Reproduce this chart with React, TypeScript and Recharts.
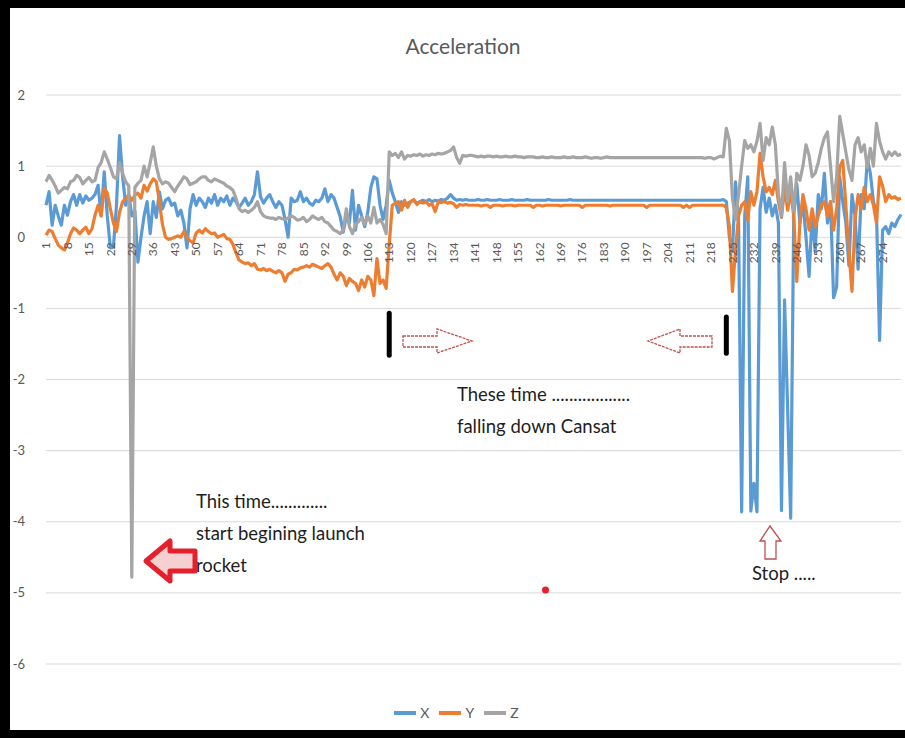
import React from 'react';
import {
  LineChart,
  Line,
  XAxis,
  YAxis,
  CartesianGrid,
  ReferenceLine,
  ReferenceDot,
} from 'recharts';

const colors = {
  blue: '#5B9BD5',
  orange: '#ED7D31',
  gray: '#A5A5A5',
  grid: '#D9D9D9',
  label: '#595959',
  note: '#1E1E1E',
  red: '#E3202B',
  darkRed: '#C0504D',
} as const;

// acceleration samples, one per reading (1..280)
const xAcc = [
  0.45, 0.64, 0.17, 0.45, 0.3, 0.17, 0.45, 0.31, 0.5, 0.6,
  0.45, 0.6, 0.48, 0.58, 0.52, 0.55, 0.6, 0.73, 0.3, 0.92,
  0.3, -0.15, -0.14, 0.45, 1.43, 0.85, 0.45, 0.6, 0.3, 0.37,
  -0.35, 0.0, 0.3, 0.5, 0.05, 0.5, 0.28, 0.64, 0.4, 0.52,
  0.55, 0.45, 0.48, 0.3, 0.38, 0.2, -0.15, 0.4, 0.6, 0.45,
  0.55, 0.5, 0.42, 0.55, 0.48, 0.6, 0.45, 0.55, 0.5, 0.58,
  0.45, 0.55, 0.5, 0.42, 0.48, 0.55, 0.45, 0.5, 0.6, 0.92,
  0.57, 0.48, 0.55, 0.6, 0.5, 0.42, 0.5, 0.45, 0.25, 0.0,
  0.55, 0.5, 0.52, 0.64, 0.5, 0.55, 0.48, 0.45, 0.52, 0.5,
  0.55, 0.68, 0.5, 0.6, 0.55, 0.42, 0.29, 0.07, 0.3, 0.2,
  0.66, 0.1, 0.45, 0.3, 0.15, 0.35, 0.7, 0.85, 0.82, 0.45,
  0.25, 0.45, 0.8, 0.62, 0.5, 0.35, 0.5, 0.45, 0.48, 0.5,
  0.52, 0.48, 0.5, 0.52, 0.5, 0.53, 0.5, 0.52, 0.51, 0.53,
  0.52, 0.55, 0.6, 0.55, 0.52, 0.53, 0.52, 0.53, 0.52, 0.52,
  0.52, 0.53, 0.52, 0.52, 0.53, 0.52, 0.52, 0.52, 0.53, 0.52,
  0.52, 0.52, 0.53, 0.52, 0.52, 0.52, 0.52, 0.53, 0.52, 0.52,
  0.52, 0.52, 0.52, 0.52, 0.53, 0.52, 0.52, 0.52, 0.52, 0.52,
  0.52, 0.53, 0.52, 0.52, 0.52, 0.52, 0.52, 0.52, 0.52, 0.52,
  0.52, 0.52, 0.52, 0.52, 0.52, 0.52, 0.52, 0.52, 0.52, 0.52,
  0.52, 0.52, 0.52, 0.52, 0.52, 0.52, 0.52, 0.52, 0.52, 0.52,
  0.52, 0.52, 0.52, 0.52, 0.52, 0.52, 0.52, 0.52, 0.52, 0.52,
  0.52, 0.52, 0.52, 0.52, 0.52, 0.52, 0.52, 0.52, 0.52, 0.52,
  0.52, 0.53, 0.5, 0.0, -0.2, 0.78, 0.2, -3.86, 0.3, 0.85,
  -3.85, -3.46, -3.86, 0.4, 0.7, 0.35, 0.55, 0.3, 0.45, 0.2,
  -3.84, -0.88, -2.4, -3.95, 0.3, 0.75, 0.2, 0.5, 0.0, -0.55,
  0.3, -0.2, 0.6, 0.4, 0.9, 0.2, 0.5, -0.85, -0.7, 0.85,
  0.5, 0.2, -0.4, 0.6, 0.3, -0.45, 0.6, 0.4, 1.1, 0.9,
  0.5, 0.35, -1.45, 0.1, 0.15, 0.05, 0.2, 0.15, 0.25, 0.32,
];

const yAcc = [
  0.03, 0.1, 0.08, -0.02, -0.11, -0.15, -0.18, -0.08, 0.05, 0.13,
  0.1, 0.05, 0.1, 0.14, 0.05, 0.12, 0.31, 0.45, 0.3, 0.69,
  0.62, 0.4, 0.2, 0.08, 0.35, 0.5, 0.55, 0.59, 0.52, 0.59,
  0.62, 0.55, 0.73, 0.65, 0.75, 0.82, 0.78, 0.5, 0.18, 0.0,
  -0.03, -0.02, 0.0, 0.02, 0.0, 0.08, 0.0, -0.05, -0.08, 0.06,
  0.1, 0.06, 0.12, 0.08, 0.05, 0.06, 0.0, 0.02, 0.04, -0.02,
  -0.03, -0.1, -0.22, -0.32, -0.35, -0.37, -0.36, -0.4, -0.37, -0.45,
  -0.46, -0.44, -0.47, -0.45, -0.48, -0.5, -0.47, -0.5, -0.62, -0.52,
  -0.5, -0.45, -0.46, -0.43, -0.42, -0.4, -0.42, -0.38, -0.4, -0.42,
  -0.44, -0.4, -0.37, -0.42, -0.52, -0.6, -0.5, -0.55, -0.68, -0.58,
  -0.62, -0.65, -0.75, -0.6, -0.7, -0.55, -0.6, -0.82, -0.3, -0.65,
  -0.6, -0.72, -0.1, 0.45, 0.48, 0.5, 0.38, 0.52, 0.42, 0.5,
  0.53, 0.46, 0.5, 0.48, 0.5, 0.45, 0.47, 0.36, 0.5, 0.49,
  0.5, 0.48, 0.49, 0.47, 0.42, 0.46, 0.45, 0.46, 0.45, 0.45,
  0.45, 0.45, 0.44, 0.45, 0.45, 0.42, 0.45, 0.45, 0.45, 0.44,
  0.45, 0.45, 0.45, 0.44, 0.45, 0.45, 0.45, 0.45, 0.45, 0.42,
  0.45, 0.45, 0.44, 0.45, 0.45, 0.45, 0.45, 0.45, 0.44, 0.45,
  0.45, 0.45, 0.45, 0.45, 0.45, 0.42, 0.45, 0.45, 0.45, 0.45,
  0.45, 0.45, 0.45, 0.45, 0.44, 0.45, 0.45, 0.45, 0.45, 0.45,
  0.45, 0.45, 0.45, 0.45, 0.45, 0.45, 0.42, 0.45, 0.45, 0.45,
  0.45, 0.45, 0.45, 0.45, 0.45, 0.45, 0.45, 0.45, 0.42, 0.45,
  0.42, 0.45, 0.45, 0.45, 0.45, 0.45, 0.45, 0.45, 0.45, 0.45,
  0.45, 0.45, 0.42, 0.15, -0.76, -0.18, 0.3, 0.45, 0.5, 0.24,
  0.64, 0.45, 0.64, 1.18, 0.85, 0.64, 0.7, 0.6, 0.8, 0.5,
  0.28, 0.7, 0.38, 0.65, 0.3, -0.62, 0.2, 0.6, 0.4, 0.1,
  0.4, 0.15, 0.3, 0.45, 0.5, 0.3, 0.5, 0.1, 0.4, 0.99,
  1.08, 0.45, -0.2, -0.76, 0.25, 0.6, 0.4, 0.7, 0.5, 0.6,
  0.45, 0.2, 0.85, 0.72, 0.5, 0.6, 0.55, 0.57, 0.53, 0.55,
];

const zAcc = [
  0.78, 0.87, 0.8, 0.72, 0.62, 0.66, 0.7, 0.68, 0.78, 0.8,
  0.87, 0.84, 0.75, 0.8, 0.84, 0.78, 0.8, 0.98, 1.05, 1.2,
  1.1, 0.98, 0.85, 0.82, 1.05, 0.9, 0.78, 0.72, -4.78, 0.7,
  0.76, 0.8, 1.0, 0.85, 1.05, 1.27, 1.0, 0.82, 0.75, 0.78,
  0.76, 0.7, 0.64, 0.72, 0.78, 0.85, 0.82, 0.74, 0.76, 0.78,
  0.82, 0.85, 0.85, 0.8, 0.78, 0.82, 0.8, 0.78, 0.76, 0.72,
  0.7, 0.66, 0.55, 0.4, 0.36, 0.38, 0.35, 0.38, 0.42, 0.5,
  0.36, 0.3, 0.28, 0.27, 0.27, 0.25, 0.28, 0.26, 0.25, 0.27,
  0.3, 0.28, 0.24, 0.25, 0.28, 0.22, 0.25, 0.3, 0.27, 0.25,
  0.28, 0.22, 0.2, 0.15, 0.1, 0.08, 0.05, 0.1, 0.4, 0.15,
  0.05, 0.18, 0.22, 0.28, 0.18, 0.3, 0.2, 0.42, 0.2, 0.25,
  0.18, 0.05, 1.2, 1.15, 1.18, 1.12, 1.2, 1.1, 1.15, 1.14,
  1.16, 1.15, 1.17, 1.14, 1.16, 1.15, 1.17, 1.16, 1.18, 1.17,
  1.18, 1.2, 1.22, 1.27, 1.12, 1.04, 1.15, 1.14, 1.15, 1.15,
  1.14, 1.13, 1.14, 1.13, 1.14, 1.14, 1.13, 1.14, 1.13, 1.13,
  1.14, 1.13, 1.13, 1.14, 1.13, 1.13, 1.12, 1.13, 1.13, 1.13,
  1.12, 1.12, 1.13, 1.12, 1.12, 1.13, 1.12, 1.12, 1.12, 1.13,
  1.12, 1.12, 1.13, 1.12, 1.12, 1.12, 1.13, 1.12, 1.11, 1.12,
  1.12, 1.11, 1.12, 1.13, 1.12, 1.12, 1.12, 1.12, 1.12, 1.12,
  1.12, 1.12, 1.12, 1.12, 1.12, 1.12, 1.12, 1.12, 1.12, 1.12,
  1.12, 1.12, 1.12, 1.12, 1.12, 1.12, 1.12, 1.12, 1.12, 1.12,
  1.12, 1.12, 1.12, 1.12, 1.12, 1.11, 1.12, 1.12, 1.1, 1.12,
  1.14, 1.13, 1.53, 1.36, 0.55, 0.25, 0.6, 1.0, 1.36, 1.25,
  1.3, 1.2, 1.35, 1.6, 1.08, 1.4, 1.3, 1.55, 1.3, 0.62,
  0.3, 1.05, 0.5, 0.85, 0.36, 0.9, 0.8, 1.0, 1.3, 1.15,
  0.85, 0.9, 1.05, 1.25, 1.4, 1.48, 1.0, 0.5, 0.85, 1.7,
  1.45, 1.2, 0.95, 0.8, 1.3, 1.4, 1.2, 1.3, 0.98, 1.25,
  1.0, 1.6, 1.35, 1.2, 1.1, 1.2, 1.15, 1.2, 1.15, 1.17,
];

const seriesNames = ['X', 'Y', 'Z'];
const yTicks = [-6, -5, -4, -3, -2, -1, 0, 1, 2];

const data = xAcc.map((x, i) => ({ t: i + 1, X: x, Y: yAcc[i], Z: zAcc[i] }));

const W = 905;
const H = 738;
const margin = { top: 95, right: 4, left: 0, bottom: 44 };
const xAxisH = 30;
const plotH = H - margin.top - margin.bottom - xAxisH;
const Y_MIN = -6;
const Y_MAX = 2;
const zeroY = margin.top + ((Y_MAX - 0) / (Y_MAX - Y_MIN)) * plotH;

const font = 'Lato, "Open Sans", sans-serif';
const seriesColors = [colors.blue, colors.orange, colors.gray];

// category labels sit on the zero line, rotated like Excel does
const CategoryTick = (props: any) => {
  const { x, payload } = props;
  const y = zeroY + 5;
  return (
    <text
      x={x}
      y={y}
      dy="0.35em"
      transform={`rotate(-90 ${x} ${y})`}
      textAnchor="end"
      fill={colors.label}
      fontSize={12}
      fontFamily={font}
    >
      {payload.value}
    </text>
  );
};

const LegendRow = () => (
  <div
    style={{
      position: 'absolute',
      top: 704,
      left: 0,
      width: W,
      display: 'flex',
      justifyContent: 'center',
      gap: 10,
      fontFamily: font,
      paddingLeft: 8,
      boxSizing: 'border-box',
    }}
  >
    {seriesNames.map((name, i) => (
      <div key={name} style={{ display: 'flex', alignItems: 'center', gap: 4 }}>
        <svg width={22} height={8}>
          <line x1={0} y1={4} x2={22} y2={4} stroke={seriesColors[i]} strokeWidth={4} />
        </svg>
        <span style={{ color: colors.label, fontSize: 14 }}>{name}</span>
      </div>
    ))}
  </div>
);

const Notes = () => (
  <svg
    width={W}
    height={H}
    style={{ position: 'absolute', left: 0, top: 0, pointerEvents: 'none' }}
  >
    <text x={463} y={54} textAnchor="middle" fontSize={21} fill={colors.label} fontFamily={font}>
      Acceleration
    </text>

    {/* launch note */}
    <polygon
      points="146,561 170,541 170,551 195,551 195,571 170,571 170,581"
      fill="#F6D0D0"
      stroke={colors.red}
      strokeWidth={5}
      strokeLinejoin="round"
    />
    <g fontSize={18.5} fill={colors.note} fontFamily={font}>
      <text x={196} y={508}>This time.............</text>
      <text x={196} y={540}>start begining launch</text>
      <text x={196} y={572}>rocket</text>
    </g>

    {/* falling interval */}
    <polygon
      points="403,336 437,336 437,329 472,341 437,353 437,347 403,347"
      fill="#fff"
      stroke={colors.darkRed}
      strokeWidth={1.3}
      strokeDasharray="3 1"
    />
    <polygon
      points="712,336 680,336 680,329 648,341 680,353 680,347 712,347"
      fill="#fff"
      stroke={colors.darkRed}
      strokeWidth={1.3}
      strokeDasharray="3 1"
    />
    <g fontSize={18.5} fill={colors.note} fontFamily={font}>
      <text x={457} y={401}>These time ..................</text>
      <text x={457} y={433}>falling down Cansat</text>
    </g>

    {/* stop note */}
    <polygon
      points="770,526 781,541 776,541 776,559 765,559 765,541 760,541"
      fill="#fff"
      stroke={colors.darkRed}
      strokeWidth={1.3}
    />
    <text x={752} y={580} fontSize={18.5} fill={colors.note} fontFamily={font}>
      Stop .....
    </text>
  </svg>
);

export default function App() {
  return (
    <div style={{ position: 'fixed', left: 0, top: 0, width: W, height: H, background: '#000' }}>
      <div style={{ position: 'absolute', left: 10, top: 8, width: W - 10, height: H - 16, background: '#fff' }} />
      <div style={{ position: 'absolute', left: 0, top: 0 }}>
        <LineChart width={W} height={H} data={data} margin={margin}>
          <CartesianGrid horizontal vertical={false} stroke={colors.grid} strokeWidth={1} />
          <XAxis
            dataKey="t"
            interval={6}
            height={xAxisH}
            axisLine={false}
            tickLine={false}
            tick={<CategoryTick />}
          />
          <YAxis
            width={46}
            domain={[Y_MIN, Y_MAX]}
            ticks={yTicks}
            axisLine={false}
            tickLine={false}
            tickMargin={15}
            tick={{ fill: colors.label, fontSize: 13, fontFamily: font }}
          />
          {seriesNames.map((name, i) => (
            <Line
              key={name}
              type="linear"
              dataKey={name}
              stroke={seriesColors[i]}
              strokeWidth={3.2}
              strokeLinejoin="round"
              dot={false}
              activeDot={false}
              isAnimationActive={false}
            />
          ))}
          <ReferenceLine
            segment={[{ x: 113, y: -1.07 }, { x: 113, y: -1.66 }]}
            stroke="#000"
            strokeWidth={5}
            strokeLinecap="round"
            ifOverflow="visible"
          />
          <ReferenceLine
            segment={[{ x: 223, y: -1.12 }, { x: 223, y: -1.63 }]}
            stroke="#000"
            strokeWidth={5}
            strokeLinecap="round"
            ifOverflow="visible"
          />
          <ReferenceDot x={164} y={-4.96} r={3.5} fill={colors.red} stroke="none" />
        </LineChart>
      </div>
      <LegendRow />
      <Notes />
    </div>
  );
}
